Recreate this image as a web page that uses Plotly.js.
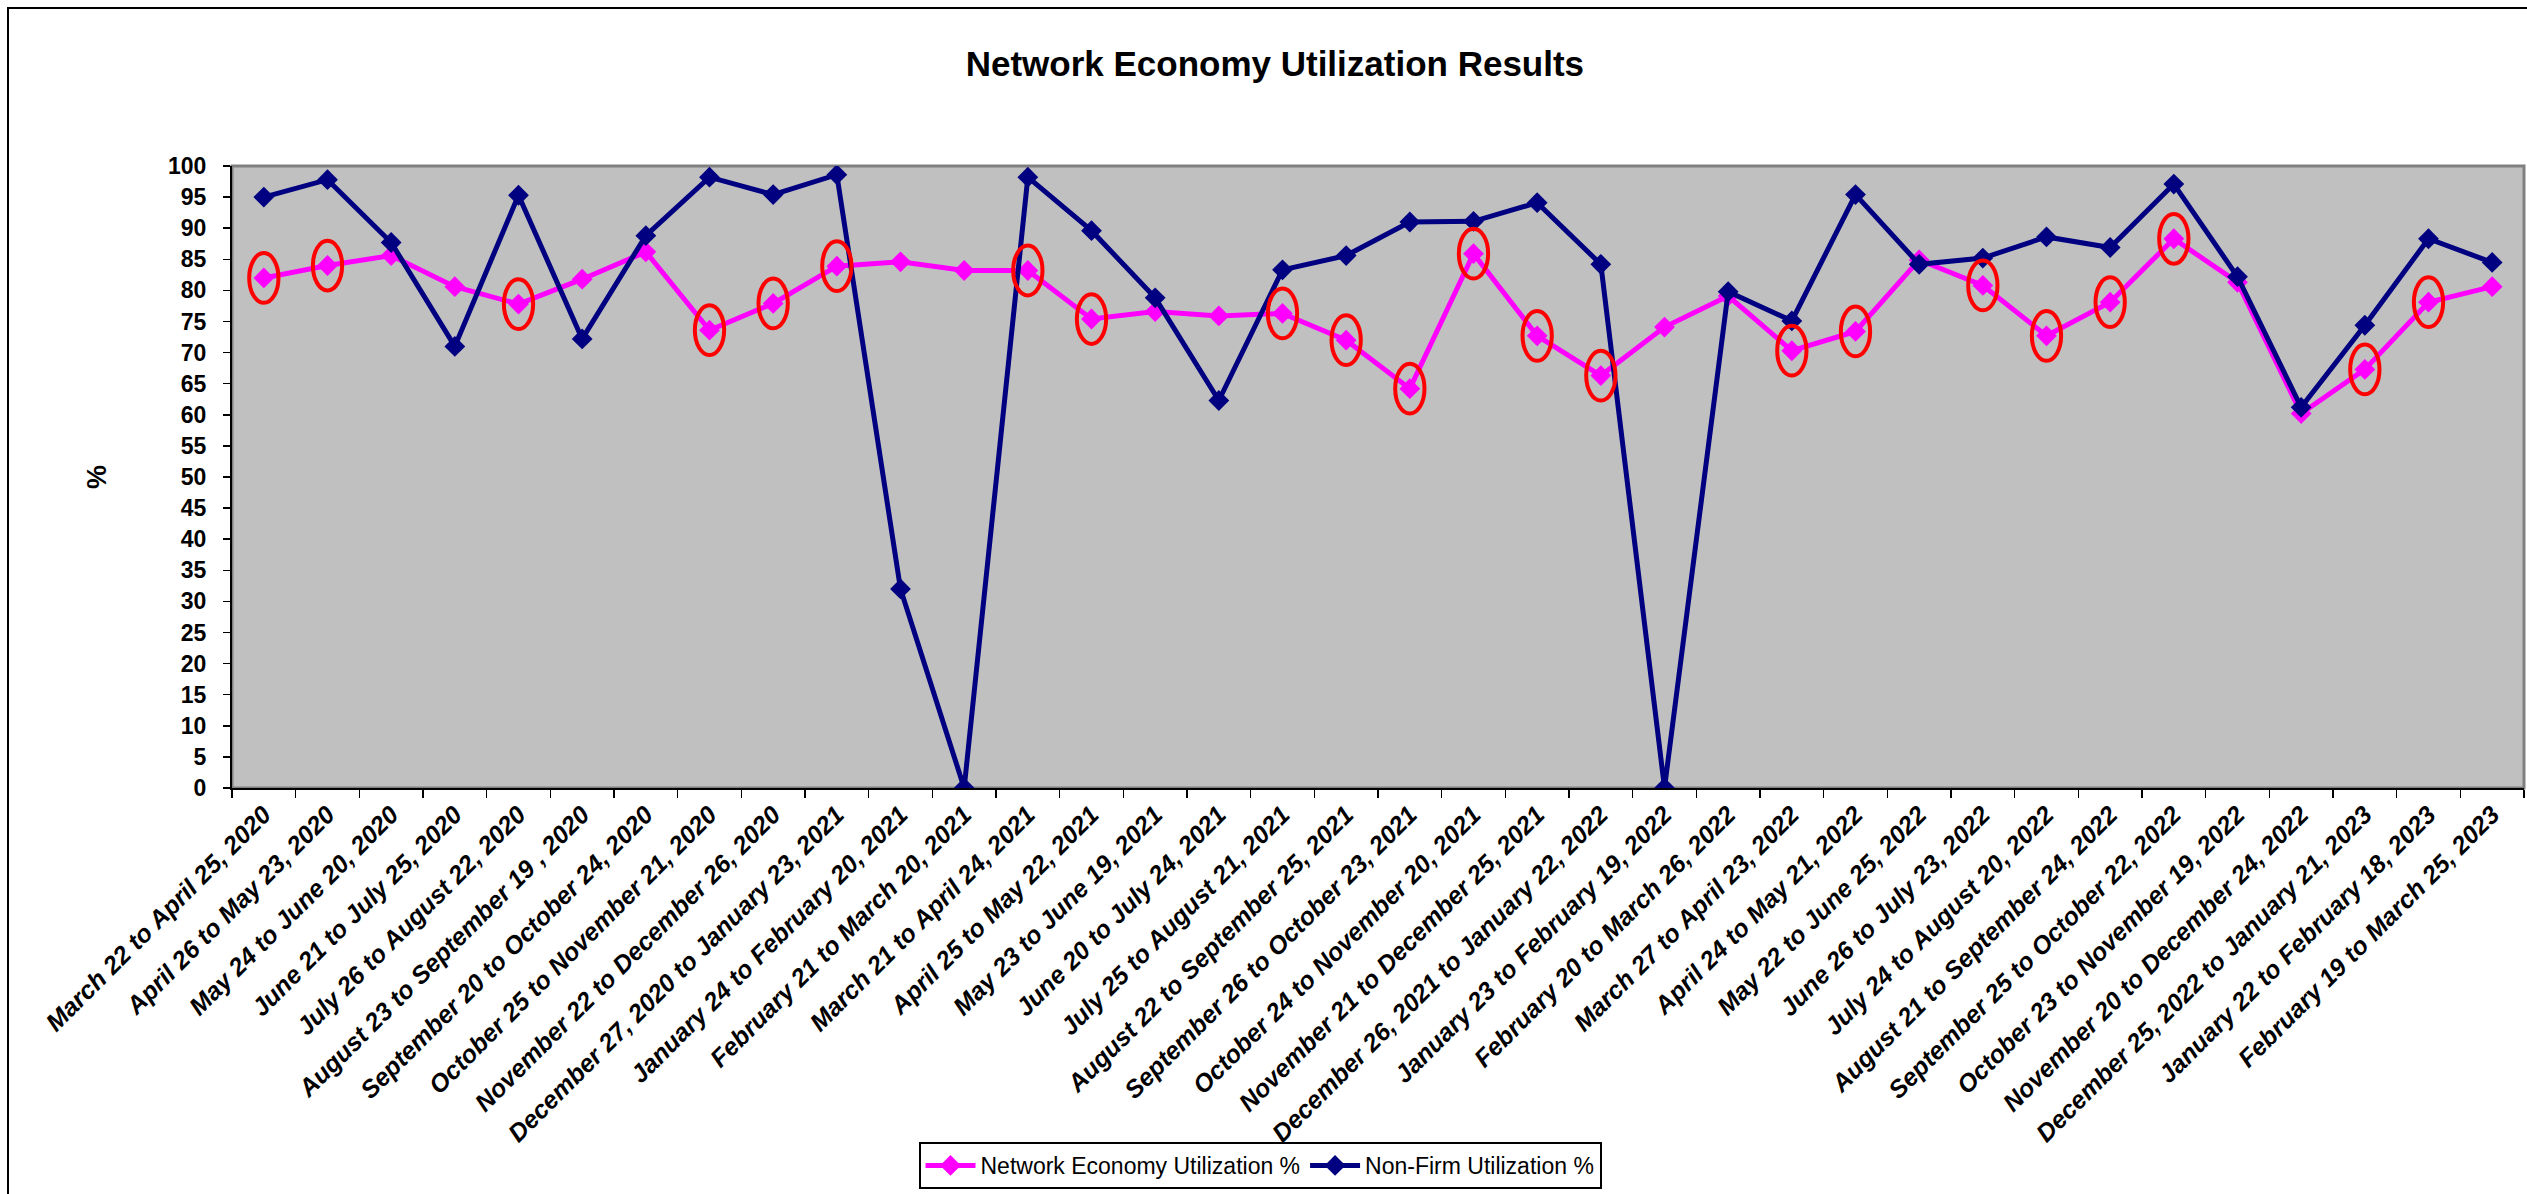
<!DOCTYPE html>
<html>
<head>
<meta charset="utf-8">
<script src="https://cdn.plot.ly/plotly-3.0.1.min.js"></script>
<style>
  html, body { margin: 0; padding: 0; background: #ffffff; overflow: hidden; }
  #chart { width: 2527px; height: 1194px; }
  #frame { position: absolute; left: 7px; top: 7px; width: 2600px; height: 1300px;
           border: 2px solid #000000; pointer-events: none; }
</style>
</head>
<body>
<div id="chart"></div>
<div id="frame"></div>
<script>
const categories = [
  "March 22 to April 25, 2020",
  "April 26 to May 23, 2020",
  "May 24 to June 20, 2020",
  "June 21 to July 25, 2020",
  "July 26 to August 22, 2020",
  "August 23 to September 19 , 2020",
  "September 20 to October 24, 2020",
  "October 25 to November 21, 2020",
  "November 22 to December 26, 2020",
  "December 27, 2020 to January 23, 2021",
  "January 24 to February 20, 2021",
  "February 21 to March 20, 2021",
  "March 21 to April 24, 2021",
  "April 25 to May 22, 2021",
  "May 23 to June 19, 2021",
  "June 20 to July 24, 2021",
  "July 25 to August 21, 2021",
  "August 22 to September 25, 2021",
  "September 26 to October 23, 2021",
  "October 24 to November 20, 2021",
  "November 21 to December 25, 2021",
  "December 26, 2021 to January 22, 2022",
  "January 23 to February 19, 2022",
  "February 20 to March 26, 2022",
  "March 27 to April 23, 2022",
  "April 24 to May 21, 2022",
  "May 22 to June 25, 2022",
  "June 26 to July 23, 2022",
  "July 24 to August 20, 2022",
  "August 21 to September 24, 2022",
  "September 25 to October 22, 2022",
  "October 23 to November 19, 2022",
  "November 20 to December 24, 2022",
  "December 25, 2022 to January 21, 2023",
  "January 22 to February 18, 2023",
  "February 19 to March 25, 2023"
];

const networkEconomy = [
  82.0, 84.0, 85.6, 80.6, 77.8, 81.8, 86.2, 73.6, 77.9, 83.9,
  84.6, 83.2, 83.2, 75.4, 76.6, 75.9, 76.3, 72.0, 64.2, 85.9,
  72.7, 66.3, 74.1, 79.1, 70.3, 73.4, 84.9, 80.8, 72.7, 78.1,
  88.3, 81.3, 60.2, 67.3, 78.1, 80.6
];

const nonFirm = [
  95.0, 97.8, 87.7, 71.0, 95.3, 72.2, 88.8, 98.2, 95.4, 98.6,
  32.0, 0.0, 98.2, 89.6, 78.8, 62.3, 83.3, 85.6, 91.0, 91.1,
  94.1, 84.2, 0.0, 79.8, 75.1, 95.4, 84.2, 85.2, 88.6, 86.9,
  97.1, 82.2, 61.2, 74.4, 88.3, 84.5
];

// 1 = point highlighted with a red ellipse in the original
const circled = [
  1, 1, 0, 0, 1, 0, 0, 1, 1, 1,
  0, 0, 1, 1, 0, 0, 1, 1, 1, 1,
  1, 1, 0, 0, 1, 1, 0, 1, 1, 1,
  1, 0, 0, 1, 1, 0
];

const yTicks = [0,5,10,15,20,25,30,35,40,45,50,55,60,65,70,75,80,85,90,95,100];

const seriesNames = ["Network Economy Utilization %", "Non-Firm Utilization %"];
const titleText = "Network Economy Utilization Results";
const yTitleText = "%";

const sansFont = "'Liberation Sans', Arial, sans-serif";

const traces = [
  {
    type: "scatter", mode: "lines+markers",
    x: categories, y: networkEconomy, name: seriesNames[0],
    line: { color: "#FF00FF", width: 5 },
    marker: { symbol: "diamond", size: 16, color: "#FF00FF" }
  },
  {
    type: "scatter", mode: "lines+markers",
    x: categories, y: nonFirm, name: seriesNames[1],
    line: { color: "#000080", width: 5 },
    marker: { symbol: "diamond", size: 16, color: "#000080" }
  }
];

const ellipses = [];
circled.forEach((c, i) => {
  if (c) {
    ellipses.push({
      type: "circle", xref: "x", yref: "y", layer: "above",
      x0: i - 0.23, x1: i + 0.23,
      y0: networkEconomy[i] - 4, y1: networkEconomy[i] + 4,
      line: { color: "#FF0000", width: 4 }
    });
  }
});

const plotBorder = {
  type: "rect", xref: "paper", yref: "paper", x0: 0, x1: 1, y0: 0, y1: 1,
  layer: "below", line: { color: "#808080", width: 3 }
};

const layout = {
  width: 2527, height: 1194,
  paper_bgcolor: "#FFFFFF",
  plot_bgcolor: "#C0C0C0",
  margin: { l: 232, r: 3, t: 166, b: 406, pad: 0 },
  showlegend: true,
  title: {
    text: titleText,
    font: { family: sansFont, size: 35, color: "#000000", weight: "bold" },
    xref: "container", x: 0.5045,
    yref: "container", y: 1 - 64 / 1194, yanchor: "middle"
  },
  xaxis: {
    type: "category",
    range: [-0.5, categories.length - 0.5],
    tickson: "boundaries",
    ticks: "outside", ticklen: 8, tickwidth: 1.5, tickcolor: "#000000",
    showline: true, linecolor: "#000000", linewidth: 2,
    showgrid: false, zeroline: false,
    tickangle: -45,
    tickfont: { family: sansFont, size: 25, color: "#000000", weight: "bold", style: "italic" },
    automargin: false, fixedrange: true
  },
  yaxis: {
    range: [0, 100],
    tickmode: "array", tickvals: yTicks, ticktext: yTicks.map(String),
    ticks: "outside", ticklen: 7, tickwidth: 1.5, tickcolor: "#000000",
    ticklabelstandoff: 12,
    showline: true, linecolor: "#000000", linewidth: 2,
    showgrid: false, zeroline: false,
    tickfont: { family: sansFont, size: 23, color: "#000000", weight: "bold" },
    automargin: false, fixedrange: true
  },
  annotations: [{
    text: yTitleText, xref: "paper", yref: "paper",
    x: (97 - 232) / 2292, y: 0.5, xanchor: "center", yanchor: "middle",
    textangle: -90, showarrow: false,
    font: { family: sansFont, size: 27, color: "#000000", weight: "bold" }
  }],
  legend: {
    orientation: "h",
    xref: "container", x: 1260 / 2527, xanchor: "center",
    yref: "container", y: 1 - 1142 / 1194, yanchor: "top",
    bgcolor: "#FFFFFF", bordercolor: "#000000", borderwidth: 2,
    font: { family: sansFont, size: 23, color: "#000000" },
    itemwidth: 50
  },
  shapes: [plotBorder].concat(ellipses)
};

Plotly.newPlot("chart", traces, layout, { staticPlot: true, displayModeBar: false });
</script>
</body>
</html>
